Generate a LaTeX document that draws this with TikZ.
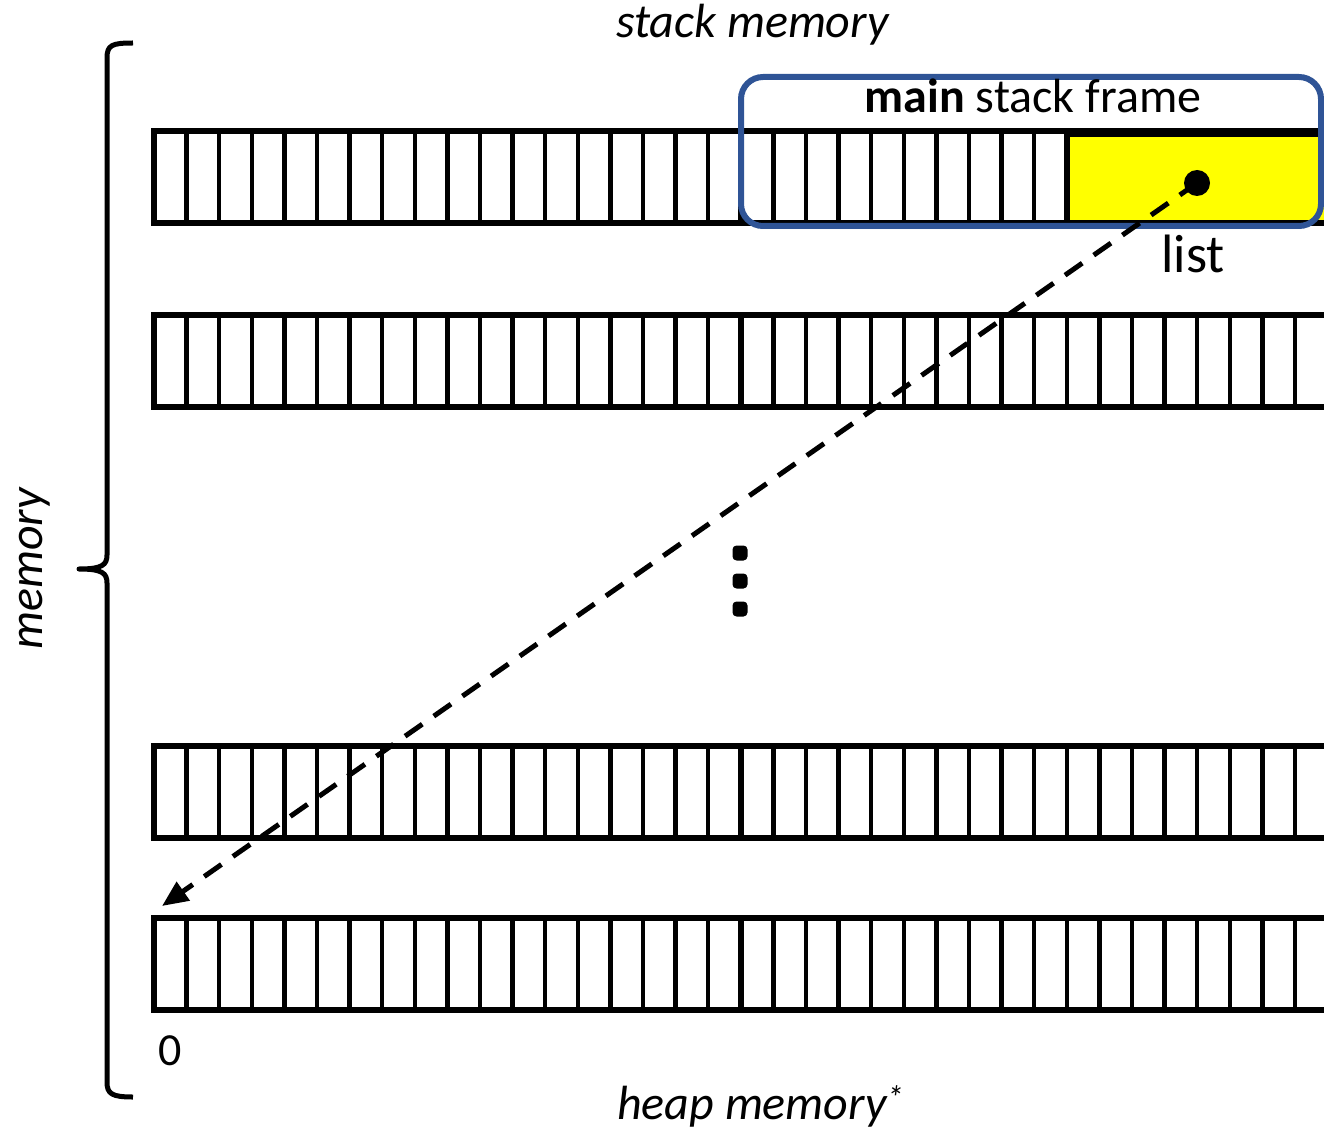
\documentclass[tikz,border=0pt]{standalone}
\usepackage{fontspec}
\setmainfont{Carlito}
\usetikzlibrary{arrows.meta,positioning}
\definecolor{frameblue}{RGB}{47,84,150}
\definecolor{slotyellow}{RGB}{255,255,0}

\begin{document}
\begin{tikzpicture}[x=1pt,y=-1pt,
  cell/.style={line width=4.5pt},
  rowbox/.style={line width=6pt},
  caption/.style={font=\fontsize{48}{52}\selectfont\itshape, inner sep=0pt, anchor=base west},
  plain/.style={font=\fontsize{46}{50}\selectfont, inner sep=0pt, anchor=base},
  pointer/.style={line width=5pt, dash pattern=on 21pt off 14pt, -{Triangle[length=26pt,width=22pt]}}]

\useasboundingbox (0,0) rectangle (1324,1131);

% memory rows
\foreach \rowy in {131,315,746,918}{
  \foreach \k in {1,...,35}
    \draw[cell] (154+\k*32.6,\rowy) -- (154+\k*32.6,\rowy+92);
  \draw[rowbox] (740.8,\rowy-2) -- (740.8,\rowy+95);
  \draw[rowbox] (154,\rowy) rectangle (1327.6,\rowy+92);
}

% main stack frame
\draw[rowbox, fill=slotyellow] (1066.8,134) rectangle (1330,223);
\node[draw=frameblue, line width=6pt, rounded corners=22pt, minimum width=580pt, minimum height=149pt] (mainframe) at (1031,151.5) {};
\node[plain, font=\fontsize{48}{52}\selectfont] (framelabel) at (1033,113) {\textbf{main} stack frame};
\node[plain, font=\fontsize{54}{60}\selectfont] (listlabel) at (1193,273) {list};
\node[circle, fill, inner sep=0pt, minimum size=26pt] (listptr) at (1197,183) {};

% pointer into the heap
\coordinate (heapstart) at (162,906);
\draw[pointer] (listptr.center) -- (heapstart);

% dots
\foreach \y [count=\i] in {553,581,609}
  \node[rectangle, rounded corners=4pt, fill, inner sep=0pt, minimum size=15pt] (vdot\i) at (740,\y) {};

% brace
\draw[line width=5pt, line join=round] (133,43) .. controls (112,43) and (107,45) .. (107,58) -- (107,555)
  .. controls (107,565) and (102,569) .. (79,569) .. controls (102,569) and (107,573) .. (107,583)
  -- (107,1082) .. controls (107,1094) and (112,1097) .. (133,1097);

% labels
\node[caption] (stacklabel) at (616,38) {stack memory};
\node[caption] (heaplabel) at (617,1119) {heap memory\textsuperscript{*}};
\node[caption, anchor=base, rotate=90] (memlabel) at (42,569) {memory};
\node[plain] (zero) at (170,1065) {0};
\end{tikzpicture}
\end{document}
